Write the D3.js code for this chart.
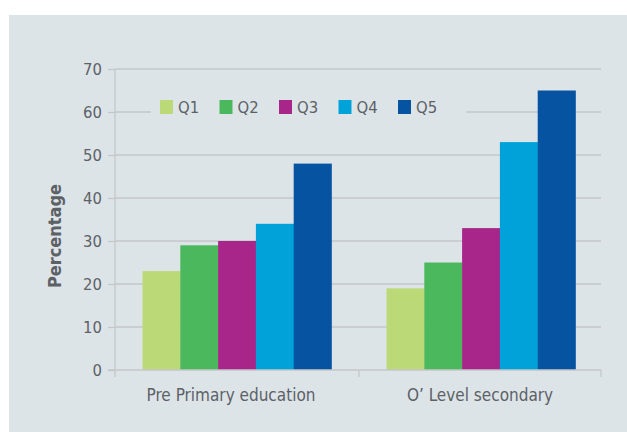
<!DOCTYPE html>
<html><head><meta charset="utf-8">
<script src="https://cdn.jsdelivr.net/npm/d3@7"></script>
<style>
html,body{margin:0;padding:0;background:#fff;}
text{font-family:"Liberation Sans Narrow","DejaVu Sans Condensed","Roboto",sans-serif;}
</style></head>
<body>
<svg id="c" width="627" height="432"></svg>
<script>
const categories = ["Pre Primary education", "O\u2019 Level secondary"];
const seriesNames = ["Q1", "Q2", "Q3", "Q4", "Q5"];
const q1 = [23, 19];
const q2 = [29, 25];
const q3 = [30, 33];
const q4 = [34, 53];
const q5 = [48, 65];
const yTicks = [0, 10, 20, 30, 40, 50, 60, 70];
const colors = ["#bcd977", "#4cb85d", "#a8258a", "#00a3d9", "#0553a1"];

const series = [q1, q2, q3, q4, q5];
const svg = d3.select("#c");
const textCol = "#5c6166";
const gridCol = "#c4c7ca";

svg.append("rect").attr("x", 9).attr("y", 15).attr("width", 618).attr("height", 417).attr("fill", "#dde4e8");

const y = d3.scaleLinear().domain([0, 70]).range([370, 69]);
const x0 = d3.scaleBand().domain(categories).range([115, 603]).paddingInner(0).paddingOuter(0);
const x1 = d3.scaleBand().domain(seriesNames).range([0, 189]);
const groupOffset = (x0.bandwidth() - 189) / 2;

// gridlines
svg.append("g").selectAll("line").data(yTicks.filter(d => d > 0)).join("line")
  .attr("x1", 115).attr("x2", 601)
  .attr("y1", d => y(d)).attr("y2", d => y(d))
  .attr("stroke", gridCol).attr("stroke-width", 1.3);

// y axis
const yAxis = svg.append("g").attr("transform", "translate(115,0)")
  .call(d3.axisLeft(y).tickValues(yTicks).tickSize(7).tickPadding(6).tickSizeOuter(0));
yAxis.select(".domain").remove();
yAxis.selectAll(".tick line").attr("stroke", gridCol).attr("stroke-width", 1.3);
yAxis.selectAll(".tick text").attr("fill", textCol).attr("font-size", 16.5);
svg.append("line").attr("x1", 115).attr("x2", 115).attr("y1", 69).attr("y2", 377)
  .attr("stroke", gridCol).attr("stroke-width", 1.3);

// bars
const groups = svg.append("g").selectAll("g").data(categories).join("g")
  .attr("transform", c => `translate(${x0(c) + groupOffset},0)`);
groups.selectAll("rect").data((c, i) => seriesNames.map((s, j) => ({s, v: series[j][i], j}))).join("rect")
  .attr("x", d => x1(d.s)).attr("width", x1.bandwidth() + 0.3)
  .attr("y", d => y(d.v)).attr("height", d => y(0) - y(d.v))
  .attr("fill", d => colors[d.j]);

// x axis
svg.append("line").attr("x1", 108).attr("x2", 601).attr("y1", 370).attr("y2", 370)
  .attr("stroke", gridCol).attr("stroke-width", 1.5);
const bounds = [x0(categories[0]), x0(categories[1]), 601];
svg.append("g").selectAll("line").data(bounds.slice(1)).join("line")
  .attr("x1", d => d).attr("x2", d => d).attr("y1", 370).attr("y2", 377)
  .attr("stroke", gridCol).attr("stroke-width", 1.3);
svg.append("g").selectAll("text").data(categories).join("text")
  .attr("x", (c, i) => x0(c) + x0.bandwidth() / 2 - (i === 0 ? 6 : 1))
  .attr("y", 401).attr("text-anchor", "middle")
  .attr("fill", textCol).attr("font-size", 17).text(c => c);

// y title
svg.append("text").attr("transform", "translate(61,236) rotate(-90)")
  .attr("text-anchor", "middle").attr("font-weight", "bold").attr("font-size", 18)
  .attr("fill", textCol).text("Percentage");

// legend
const leg = svg.append("g");
leg.append("rect").attr("x", 151).attr("y", 92).attr("width", 315).attr("height", 28).attr("fill", "#dde4e8");
const li = leg.selectAll("g").data(seriesNames).join("g")
  .attr("transform", (s, i) => `translate(${160 + i * 59.5},100)`);
li.append("rect").attr("width", 13).attr("height", 14).attr("fill", (s, i) => colors[i]);
li.append("text").attr("x", 18).attr("y", 13).attr("fill", textCol).attr("font-size", 16.5).text(s => s);
</script>
</body></html>
